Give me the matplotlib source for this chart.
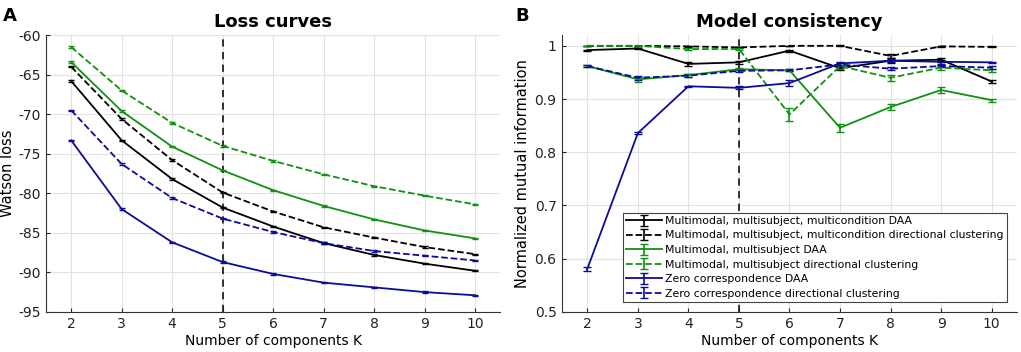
import numpy as np
import matplotlib
matplotlib.use('Agg')
import matplotlib.pyplot as plt

K = [2, 3, 4, 5, 6, 7, 8, 9, 10]

# Panel A: Watson loss
loss_mmc_daa = [-65.8, -73.3, -78.2, -81.8, -84.2, -86.3, -87.8, -88.9, -89.8]
loss_mmc_dc = [-64.0, -70.6, -75.8, -79.9, -82.3, -84.3, -85.6, -86.8, -87.7]
loss_mm_daa = [-63.4, -69.6, -74.1, -77.1, -79.6, -81.6, -83.3, -84.7, -85.7]
loss_mm_dc = [-61.5, -67.0, -71.1, -74.0, -75.9, -77.6, -79.1, -80.3, -81.4]
loss_zc_daa = [-73.3, -82.0, -86.2, -88.7, -90.2, -91.3, -91.9, -92.5, -92.9]
loss_zc_dc = [-69.5, -76.3, -80.6, -83.2, -84.9, -86.3, -87.3, -87.9, -88.5]

# Panel B: normalized mutual information
nmi_mmc_daa = [0.992, 0.995, 0.966, 0.969, 0.991, 0.958, 0.972, 0.974, 0.933]
nmi_mmc_dc = [1.000, 1.000, 0.999, 0.997, 1.000, 1.000, 0.981, 0.999, 0.998]
nmi_mm_daa = [0.962, 0.937, 0.945, 0.956, 0.954, 0.846, 0.885, 0.917, 0.898]
nmi_mm_dc = [1.000, 1.000, 0.994, 0.994, 0.871, 0.962, 0.940, 0.959, 0.954]
nmi_zc_daa = [0.581, 0.836, 0.924, 0.921, 0.930, 0.967, 0.972, 0.970, 0.969]
nmi_zc_dc = [0.962, 0.940, 0.944, 0.953, 0.954, 0.965, 0.957, 0.962, 0.959]

err_mmc_daa = [0.001, 0.001, 0.003, 0.003, 0.002, 0.004, 0.005, 0.004, 0.002]
err_mmc_dc = [0.000, 0.000, 0.001, 0.001, 0.000, 0.001, 0.004, 0.001, 0.001]
err_mm_daa = [0.002, 0.005, 0.003, 0.002, 0.002, 0.008, 0.005, 0.006, 0.003]
err_mm_dc = [0.000, 0.000, 0.002, 0.002, 0.012, 0.005, 0.006, 0.004, 0.003]
err_zc_daa = [0.004, 0.002, 0.001, 0.003, 0.006, 0.003, 0.003, 0.004, 0.001]
err_zc_dc = [0.002, 0.004, 0.003, 0.002, 0.002, 0.002, 0.003, 0.002, 0.003]

labels = ['Multimodal, multisubject, multicondition DAA',
          'Multimodal, multisubject, multicondition directional clustering',
          'Multimodal, multisubject DAA',
          'Multimodal, multisubject directional clustering',
          'Zero correspondence DAA',
          'Zero correspondence directional clustering']

black = 'black'
green = '#119111'
blue = '#0c0c96'
colors = [black, black, green, green, blue, blue]
styles = ['-', '--', '-', '--', '-', '--']

loss = [loss_mmc_daa, loss_mmc_dc, loss_mm_daa, loss_mm_dc, loss_zc_daa, loss_zc_dc]
nmi = [nmi_mmc_daa, nmi_mmc_dc, nmi_mm_daa, nmi_mm_dc, nmi_zc_daa, nmi_zc_dc]
errs = [err_mmc_daa, err_mmc_dc, err_mm_daa, err_mm_dc, err_zc_daa, err_zc_dc]

plt.rcParams['font.family'] = 'DejaVu Sans'
plt.rcParams['axes.unicode_minus'] = False
fig = plt.figure(figsize=(10.21, 3.52), dpi=100)
axA = fig.add_axes([0.045, 0.114, 0.445, 0.786])
axB = fig.add_axes([0.5505, 0.114, 0.4455, 0.786])


def style_axes(ax):
    ax.grid(True, color='#e2e2e2', linewidth=0.8)
    ax.set_axisbelow(True)
    for s in ['top', 'right']:
        ax.spines[s].set_visible(False)
    for s in ['left', 'bottom']:
        ax.spines[s].set_color('#333333')
        ax.spines[s].set_linewidth(0.8)
    ax.tick_params(direction='in', length=3, labelsize=10, colors='#222222', pad=4)
    ax.set_xlim(1.5, 10.5)
    ax.set_xticks(K)
    ax.set_xlabel('Number of components K', fontsize=10, labelpad=2)


# Panel A
for y, c, ls in zip(loss, colors, styles):
    axA.errorbar(K, y, yerr=0.08, color=c, linestyle=ls, linewidth=1.3,
                 capsize=2.5, elinewidth=1)
axA.axvline(5, color='#222222', linestyle='--', linewidth=1.3, dashes=(4, 3))
style_axes(axA)
axA.set_ylim(-95, -60)
axA.set_yticks(np.arange(-95, -59, 5))
axA.set_ylabel('Watson loss', fontsize=10.5, labelpad=2)
axA.set_title('Loss curves', fontsize=13, fontweight='bold', pad=6)

# Panel B
handles = []
for y, e, c, ls, lab in zip(nmi, errs, colors, styles, labels):
    h = axB.errorbar(K, y, yerr=e, color=c, linestyle=ls, linewidth=1.3,
                     capsize=3, elinewidth=1.2, label=lab)
    handles.append(h)
axB.axvline(5, color='#222222', linestyle='--', linewidth=1.3, dashes=(4, 3))
style_axes(axB)
axB.set_ylim(0.5, 1.02)
axB.set_yticks([0.5, 0.6, 0.7, 0.8, 0.9, 1.0])
axB.set_yticklabels(['0.5', '0.6', '0.7', '0.8', '0.9', '1'])
axB.set_ylabel('Normalized mutual information', fontsize=10.5, labelpad=3)
axB.set_title('Model consistency', fontsize=13, fontweight='bold', pad=6)
leg = axB.legend(handles=handles, loc='lower right', bbox_to_anchor=(0.978, 0.036),
                 fontsize=7.8, frameon=True, fancybox=False, framealpha=1,
                 edgecolor='#444444', handlelength=3.3, handletextpad=0.3,
                 labelspacing=0.42, borderpad=0.3, borderaxespad=0)
leg.get_frame().set_linewidth(0.8)
leg.set_zorder(5)

fig.text(0.003, 0.94, 'A', fontsize=13, fontweight='bold')
fig.text(0.505, 0.94, 'B', fontsize=13, fontweight='bold')

fig.savefig('out.png', dpi=100)
